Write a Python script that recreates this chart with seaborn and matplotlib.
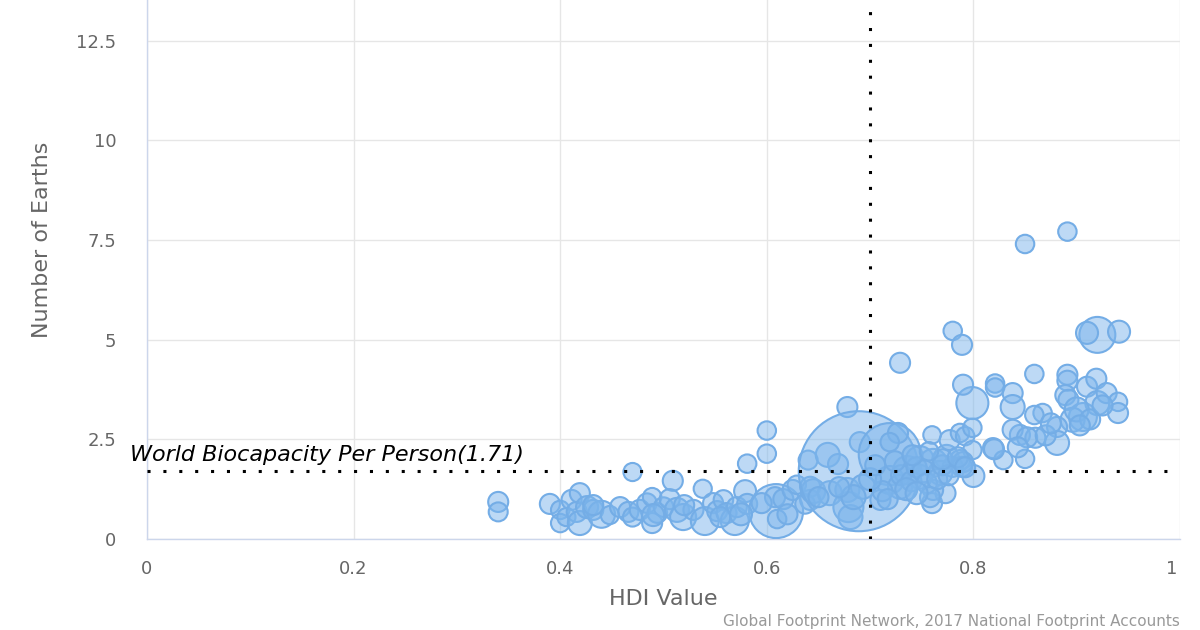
import numpy as np
import pandas as pd
import matplotlib
matplotlib.use("Agg")
import matplotlib.pyplot as plt
import matplotlib.transforms as mtransforms
import seaborn as sns

# ---------------- data ----------------
hdi = [
    0.340, 0.340, 0.390, 0.400, 0.400, 0.411, 0.406, 0.416, 0.419, 0.419,
    0.426, 0.432, 0.440, 0.448, 0.458, 0.466, 0.470, 0.470, 0.477, 0.484,
    0.489, 0.489, 0.494, 0.500, 0.509, 0.506, 0.513, 0.519, 0.529, 0.538,
    0.540, 0.548, 0.552, 0.558, 0.561, 0.569, 0.571, 0.579, 0.581, 0.581,
    0.600, 0.600, 0.609, 0.608, 0.616, 0.610, 0.620, 0.625, 0.629, 0.640,
    0.642, 0.642, 0.637, 0.645, 0.659, 0.669, 0.678, 0.661, 0.678, 0.679,
    0.681, 0.690, 0.689, 0.693, 0.710, 0.719, 0.719, 0.729, 0.727, 0.719,
    0.729, 0.736, 0.748, 0.761, 0.774, 0.787, 0.760, 0.773, 0.761, 0.748,
    0.768, 0.780, 0.760, 0.777, 0.787, 0.792, 0.799, 0.799, 0.790, 0.780,
    0.789, 0.819, 0.800, 0.799, 0.821, 0.821, 0.838, 0.838, 0.859, 0.891,
    0.891, 0.889, 0.892, 0.910, 0.919, 0.906, 0.896, 0.920, 0.929, 0.940,
    0.940, 0.881, 0.881, 0.867, 0.859, 0.845, 0.838, 0.860, 0.850, 0.829,
    0.920, 0.910, 0.941, 0.891, 0.850, 0.820, 0.790, 0.789, 0.730, 0.740,
    0.745, 0.752, 0.755, 0.765, 0.770, 0.776, 0.735, 0.712, 0.700, 0.705,
    0.758, 0.770, 0.724, 0.741, 0.757, 0.745, 0.785, 0.792, 0.717, 0.684,
    0.670, 0.650, 0.852, 0.870, 0.875, 0.900, 0.913, 0.925, 0.903, 0.843,
    0.432, 0.490, 0.520, 0.555, 0.575, 0.595,
]
earths = [
    0.93, 0.68, 0.88, 0.73, 0.40, 0.98, 0.55, 0.68, 1.15, 0.40,
    0.80, 0.73, 0.62, 0.60, 0.80, 0.68, 1.68, 0.55, 0.73, 0.90,
    1.05, 0.40, 0.65, 0.80, 1.46, 1.00, 0.73, 0.55, 0.73, 1.26,
    0.45, 0.90, 0.70, 0.98, 0.65, 0.45, 0.80, 1.20, 0.88, 1.89,
    2.72, 2.14, 0.70, 1.05, 1.00, 0.50, 0.62, 1.23, 1.36, 1.98,
    1.31, 0.98, 0.88, 1.20, 2.11, 1.88, 3.31, 1.15, 1.23, 0.80,
    0.55, 2.43, 1.70, 1.31, 0.98, 2.13, 1.48, 1.31, 2.66, 2.43,
    4.42, 1.73, 1.98, 1.91, 2.06, 1.98, 0.90, 1.15, 1.23, 1.56,
    1.66, 1.81, 2.61, 2.48, 2.66, 2.58, 2.79, 3.41, 3.87, 5.22,
    4.87, 2.28, 1.58, 2.23, 3.90, 3.80, 3.66, 3.31, 4.14, 4.12,
    3.97, 3.61, 3.49, 3.82, 4.02, 3.06, 2.99, 3.41, 3.66, 3.44,
    3.16, 2.81, 2.41, 3.16, 3.11, 2.61, 2.74, 2.54, 2.01, 1.98,
    5.12, 5.17, 5.20, 7.71, 7.40, 2.25, 1.93, 1.81, 1.60, 1.45,
    1.80, 1.70, 1.40, 1.50, 1.85, 1.60, 1.25, 1.20, 1.50, 1.85,
    1.05, 2.00, 1.95, 2.10, 2.20, 1.15, 2.05, 1.80, 1.00, 1.05,
    1.30, 1.05, 2.55, 2.60, 2.90, 3.25, 3.00, 3.35, 2.85, 2.30,
    0.85, 0.60, 0.85, 0.55, 0.62, 0.90,
]
population = [
    12, 8, 12, 6, 6, 12, 5, 12, 12, 29,
    20, 12, 44, 5, 12, 12, 5, 8, 12, 10,
    6, 12, 10, 10, 12, 12, 29, 39, 12, 5,
    49, 12, 12, 10, 12, 49, 12, 20, 12, 6,
    6, 6, 258, 12, 12, 6, 12, 12, 6, 8,
    12, 12, 10, 29, 29, 12, 12, 29, 29, 61,
    29, 12, 1380, 29, 12, 348, 49, 29, 12, 6,
    12, 49, 49, 49, 29, 12, 12, 12, 12, 29,
    29, 12, 3, 12, 6, 6, 6, 73, 12, 6,
    12, 12, 20, 6, 6, 6, 12, 29, 6, 12,
    12, 12, 12, 12, 12, 49, 29, 29, 12, 6,
    12, 12, 29, 6, 6, 12, 12, 12, 6, 6,
    99, 20, 20, 6, 6, 12, 12, 12, 12, 12,
    12, 20, 12, 12, 12, 12, 20, 12, 20, 12,
    12, 12, 12, 12, 6, 20, 12, 12, 12, 29,
    12, 12, 12, 12, 12, 29, 12, 12, 12, 12,
    12, 20, 12, 12, 20, 12,
]

x_ticks = [0, 0.2, 0.4, 0.6, 0.8, 1.0]
x_tick_labels = ["0", "0.2", "0.4", "0.6", "0.8", "1"]
y_ticks = [0, 2.5, 5, 7.5, 10, 12.5]
y_tick_labels = ["0", "2.5", "5", "7.5", "10", "12.5"]

biocapacity = 1.71
hdi_threshold = 0.7
biocap_label = "World Biocapacity Per Person(1.71)"
x_title = "HDI Value"
y_title = "Number of Earths"
credit = "Global Footprint Network, 2017 National Footprint Accounts"

# ---------------- styling ----------------
sns.set_theme(style="white")
plt.rcParams["font.family"] = ["DejaVu Sans"]

W, H = 1200, 630
fig = plt.figure(figsize=(W / 100, H / 100), dpi=100)
# plot area: x px 147..1180, y px -59..539 (top is cropped off the canvas)
ax = fig.add_axes([147 / W, (H - 539) / H, 1033 / W, 598 / H])

df = pd.DataFrame({"hdi": hdi, "earths": earths, "population": population})
sns.scatterplot(
    data=df, x="hdi", y="earths", size="population",
    sizes=(150, 7465), size_norm=(1, 1380), legend=False,
    color="#7cb5ec", ax=ax, zorder=3,
)
pts = ax.collections[0]
pts.set_facecolor((124 / 255, 181 / 255, 236 / 255, 0.5))
pts.set_edgecolor("#74ade6")
pts.set_linewidth(1.5)

ax.set_xlim(0, 1)
ax.set_ylim(0, 15)
ax.set_xticks(x_ticks)
ax.set_xticklabels(x_tick_labels)
ax.set_yticks(y_ticks)
ax.set_yticklabels(y_tick_labels)

ax.grid(True, color="#e6e6e6", linewidth=1.0, zorder=0)
ax.set_axisbelow(True)
for side in ("top", "right"):
    ax.spines[side].set_visible(False)
for side in ("left", "bottom"):
    ax.spines[side].set_color("#ccd6eb")
    ax.spines[side].set_linewidth(1.0)

ax.tick_params(axis="x", length=0, pad=15, labelsize=13, labelcolor="#666666")
ax.tick_params(axis="y", length=0, pad=22, labelsize=13, labelcolor="#666666")

# the last x label is pulled inside the plot edge, as in the reference
last = ax.get_xticklabels()[-1]
last.set_transform(last.get_transform() +
                   mtransforms.ScaledTranslation(-8 / 100, 0, fig.dpi_scale_trans))

ax.set_xlabel(x_title, fontsize=16, color="#666666")
ax.set_ylabel(y_title, fontsize=16, color="#666666")
ax.xaxis.set_label_coords(0.5, -(589 - 539) / 598)
ax.yaxis.set_label_coords(-(147 - 52) / 1033, 0.5)

# reference lines
dots = (0, (1, 4.2))
ax.axhline(biocapacity, color="black", linewidth=2.2, linestyle=dots, zorder=5)
ax.axvline(hdi_threshold, color="black", linewidth=2.2, linestyle=dots, zorder=5)

ax.text(-17 / 1033, (539 - 461) / 39.87, biocap_label, fontsize=16,
        style="italic", color="black", ha="left", va="baseline",
        clip_on=False, zorder=6)

fig.text(1180 / W, 1 / H, credit, ha="right", va="bottom",
         fontsize=11, color="#999999")

fig.savefig("out.png", dpi=100)
